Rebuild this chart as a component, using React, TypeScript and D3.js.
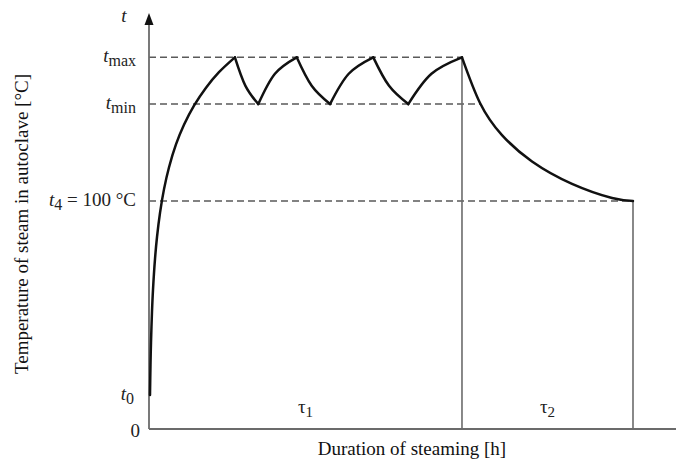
import React from "react";
import * as d3 from "d3";

// ---- data (hours, °C) ----
const heatUpHours = [0.19, 0.285, 0.38, 0.57, 0.76, 1.14, 1.52, 2.09, 2.85, 3.8, 5.12, 6.64, 8.54, 10.82, 13.28, 16.3];
const heatUpTemp = [14.9, 28.4, 38.0, 51.5, 61.1, 74.6, 84.2, 94.8, 105.2, 114.8, 124.8, 133.4, 141.8, 149.7, 156.5, 163];

const cycleHours = [
  [16.3, 18.3, 20.74],
  [20.74, 23.9, 28.03],
  [28.03, 30.87, 34.35],
  [34.35, 37.9, 42.56],
  [42.56, 45.55, 49.2],
  [49.2, 53.6, 59.39],
];
const cycleTemp = [
  [163, 150.5, 142.5],
  [142.5, 155.8, 163],
  [163, 150.5, 142.5],
  [142.5, 155.8, 163],
  [163, 150.5, 142.5],
  [142.5, 155.8, 163],
];

const coolHours = [59.39, 62.81, 66.98, 72.68, 80.27, 87.86, 91.84];
const coolTemp = [163, 143.0, 128.9, 117.3, 107.5, 101.3, 100];

const levelNames = ["max", "min", "4"];
const levelTemps = [163, 142.5, 100];
const levelEnds = [59.39, 62.9, 91.84];

const t0Temp = 15;
const phaseBounds = [0, 59.39, 91.84];
const phaseNames = ["1", "2"];

const W = 681;
const H = 462;
const FONT = "'Liberation Serif', 'Times New Roman', serif";

export default function App() {
  const x = d3.scaleLinear().domain([0, 100]).range([149, 676]);
  const y = d3.scaleLinear().domain([0, 182]).range([429, 14]);

  const heatLine = d3
    .line<[number, number]>()
    .x((d) => x(d[0]))
    .y((d) => y(d[1]))
    .curve(d3.curveCatmullRom.alpha(0.5));
  const smoothLine = d3
    .line<[number, number]>()
    .x((d) => x(d[0]))
    .y((d) => y(d[1]))
    .curve(d3.curveNatural);

  const segments: string[] = [];
  segments.push(heatLine(heatUpHours.map((h, i) => [h, heatUpTemp[i]] as [number, number])) || "");
  cycleHours.forEach((hs, k) =>
    segments.push(smoothLine(hs.map((h, i) => [h, cycleTemp[k][i]] as [number, number])) || "")
  );
  segments.push(smoothLine(coolHours.map((h, i) => [h, coolTemp[i]] as [number, number])) || "");

  const x0 = x(0);
  const yBase = y(0);
  const yTop = y(182);

  const dashColor = "#5a5a5a";
  const axisColor = "#6b6b6b";
  const fs = 19;

  return (
    <svg
      width={W}
      height={H}
      style={{ position: "absolute", left: 0, top: 0, background: "#fff" }}
      fontFamily={FONT}
    >
      <rect width={W} height={H} fill="#fff" />

      {/* reference dashed levels */}
      {levelTemps.map((t, i) => (
        <line
          key={"lv" + i}
          x1={x0}
          x2={x(levelEnds[i])}
          y1={y(t)}
          y2={y(t)}
          stroke={dashColor}
          strokeWidth={1.6}
          strokeDasharray="7 4"
        />
      ))}

      {/* phase boundaries */}
      {phaseBounds.slice(1).map((h, i) => (
        <line
          key={"pb" + i}
          x1={x(h)}
          x2={x(h)}
          y1={y(i === 0 ? levelTemps[0] : coolTemp[coolTemp.length - 1])}
          y2={yBase}
          stroke={axisColor}
          strokeWidth={1.6}
        />
      ))}

      {/* axes */}
      <line x1={x0} x2={x0} y1={yBase} y2={yTop + 10} stroke={axisColor} strokeWidth={1.8} />
      <polygon
        points={`${x0},${yTop - 1} ${x0 - 4.5},${yTop + 11} ${x0 + 4.5},${yTop + 11}`}
        fill="#111"
      />
      <line x1={x0} x2={x(100)} y1={yBase} y2={yBase} stroke={axisColor} strokeWidth={1.8} />

      {/* curve */}
      {segments.map((d, i) => (
        <path key={"seg" + i} d={d} fill="none" stroke="#111" strokeWidth={2.5} strokeLinecap="round" />
      ))}

      {/* level labels */}
      <text x={x0 - 25} y={yTop + 8} fontSize={fs} fontStyle="italic" textAnchor="middle" fill="#222">
        t
      </text>
      {levelTemps.map((t, i) => (
        <text
          key={"ll" + i}
          x={x0 - 13}
          y={y(t) + 5}
          fontSize={fs}
          textAnchor="end"
          fill="#222"
        >
          <tspan fontStyle="italic">t</tspan>
          <tspan fontSize={16} dy={4}>
            {levelNames[i]}
          </tspan>
          {i === 2 ? <tspan dy={-4}>{" = 100 °C"}</tspan> : null}
        </text>
      ))}
      <text x={x0 - 15} y={y(t0Temp) + 5} fontSize={fs} textAnchor="end" fill="#222">
        <tspan fontStyle="italic">t</tspan>
        <tspan fontSize={16} dy={4}>0</tspan>
      </text>
      <text x={x0 - 9} y={yBase + 8} fontSize={fs} textAnchor="end" fill="#222">
        0
      </text>

      {/* phase labels */}
      {phaseNames.map((n, i) => (
        <text
          key={"ph" + i}
          x={(x(phaseBounds[i]) + x(phaseBounds[i + 1])) / 2}
          y={yBase - 16}
          fontSize={fs}
          textAnchor="middle"
          fill="#222"
        >
          τ<tspan fontSize={15} dy={4}>{n}</tspan>
        </text>
      ))}

      {/* axis titles */}
      <text x={412} y={455} fontSize={fs} textAnchor="middle" fill="#111">
        Duration of steaming [h]
      </text>
      <text
        transform={`translate(28, 224) rotate(-90)`}
        fontSize={fs}
        textAnchor="middle"
        fill="#111"
      >
        Temperature of steam in autoclave [°C]
      </text>
    </svg>
  );
}
